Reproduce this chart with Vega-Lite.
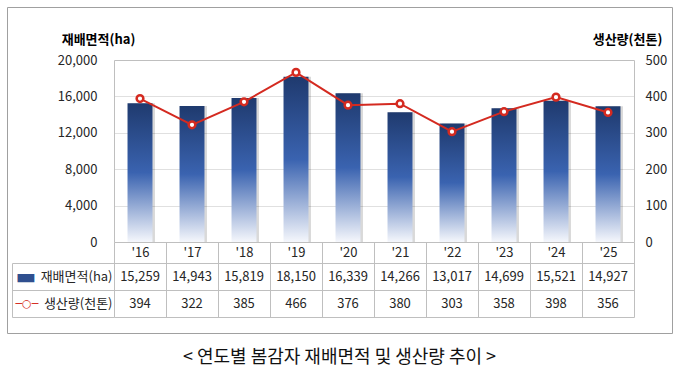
{
  "$schema": "https://vega.github.io/schema/vega-lite/v6.json",
  "width": 665,
  "height": 326,
  "autosize": "none",
  "padding": {"left": 7, "top": 7, "right": 8, "bottom": 42},
  "background": "white",
  "config": {
    "view": {"stroke": "#a0a0a0", "strokeWidth": 1},
    "font": "Noto Sans CJK KR",
    "axis": {"labelFont": "Noto Sans CJK KR", "titleFont": "Noto Sans CJK KR"},
    "text": {"font": "Noto Sans CJK KR"}
  },
  "title": {
    "text": "< 연도별 봄감자 재배면적 및 생산량 추이 >",
    "orient": "bottom",
    "anchor": "middle",
    "fontSize": 18,
    "fontWeight": "normal",
    "font": "Noto Sans CJK KR",
    "color": "#111111",
    "offset": 16
  },
  "data": {
    "values": [
      {"year": "'16", "area": 15259, "prod": 394},
      {"year": "'17", "area": 14943, "prod": 322},
      {"year": "'18", "area": 15819, "prod": 385},
      {"year": "'19", "area": 18150, "prod": 466},
      {"year": "'20", "area": 16339, "prod": 376},
      {"year": "'21", "area": 14266, "prod": 380},
      {"year": "'22", "area": 13017, "prod": 303},
      {"year": "'23", "area": 14699, "prod": 358},
      {"year": "'24", "area": 15521, "prod": 398},
      {"year": "'25", "area": 14927, "prod": 356}
    ]
  },
  "encoding": {
    "x": {
      "field": "year",
      "type": "nominal",
      "sort": null,
      "title": null,
      "scale": {"type": "band", "range": [107, 627], "paddingInner": 0, "paddingOuter": 0},
      "axis": {
        "orient": "bottom",
        "offset": -91,
        "domainColor": "#bfbfbf",
        "tickBand": "extent",
        "tickSize": 75,
        "tickColor": "#bfbfbf",
        "labelPadding": -64.5,
        "labelBaseline": "middle",
        "labelAngle": 0,
        "labelFontSize": 13,
        "labelColor": "#262626",
        "grid": false
      }
    }
  },
  "layer": [
    {
      "mark": {"type": "bar", "width": {"band": 0.48}, "fill": "#000000", "opacity": 0.15, "xOffset": 2.5},
      "encoding": {
        "y": {"field": "area", "type": "quantitative", "scale": {"domain": [0, 20000], "range": [235, 53], "nice": false}, "axis": null}
      }
    },
    {
      "mark": {
        "type": "bar",
        "width": {"band": 0.48},
        "fill": {
          "gradient": "linear",
          "x1": 0, "y1": 0, "x2": 0, "y2": 1,
          "stops": [
            {"offset": 0, "color": "#1f3a6e"},
            {"offset": 0.5, "color": "#3a63b0"},
            {"offset": 1, "color": "#f5f7fc"}
          ]
        }
      },
      "encoding": {
        "y": {
          "field": "area",
          "type": "quantitative",
          "scale": {"domain": [0, 20000], "range": [235, 53], "nice": false},
          "axis": {
            "orient": "left",
            "offset": -107,
            "values": [0, 4000, 8000, 12000, 16000, 20000],
            "labelExpr": "format(datum.value, ',')",
            "ticks": false,
            "tickSize": 0,
            "labelPadding": 17,
            "labelFontSize": 13,
            "labelColor": "#262626",
            "domainColor": "#bfbfbf",
            "grid": true,
            "gridColor": {"condition": {"test": "datum.value >= 20000", "value": "#bfbfbf"}, "value": "#e0e0e0"},
            "title": "재배면적(ha)",
            "titleAngle": 0,
            "titleX": -16,
            "titleY": 32,
            "titleAlign": "center",
            "titleBaseline": "middle",
            "titleFontSize": 13,
            "titleFontWeight": "bold",
            "titleColor": "#000000"
          }
        }
      }
    },
    {
      "mark": {"type": "line", "color": "#d42a20", "strokeWidth": 2},
      "encoding": {
        "y": {
          "field": "prod",
          "type": "quantitative",
          "scale": {"domain": [0, 500], "range": [235, 53], "nice": false},
          "axis": {
            "orient": "right",
            "offset": -38,
            "values": [0, 100, 200, 300, 400, 500],
            "ticks": false,
            "tickSize": 0,
            "labelPadding": 11,
            "labelFontSize": 13,
            "labelColor": "#262626",
            "domainColor": "#bfbfbf",
            "grid": false,
            "title": "생산량(천톤)",
            "titleAngle": 0,
            "titleX": -7,
            "titleY": 32,
            "titleAlign": "center",
            "titleBaseline": "middle",
            "titleFontSize": 13,
            "titleFontWeight": "bold",
            "titleColor": "#000000"
          }
        }
      }
    },
    {
      "mark": {"type": "point", "shape": "circle", "filled": true, "fill": "white", "stroke": "#d42a20", "strokeWidth": 2.5, "size": 45, "opacity": 1},
      "encoding": {
        "y": {"field": "prod", "type": "quantitative", "scale": {"domain": [0, 500], "range": [235, 53], "nice": false}, "axis": null}
      }
    },
    {
      "transform": [{"fold": ["area", "prod"], "as": ["key", "value"]}],
      "mark": {"type": "text", "fontSize": 13, "color": "#262626", "baseline": "middle"},
      "encoding": {
        "y": {
          "field": "key",
          "type": "nominal",
          "scale": {"type": "band", "domain": ["area", "prod"], "range": [256, 310], "paddingInner": 0, "paddingOuter": 0},
          "axis": {
            "orient": "left",
            "offset": -5,
            "title": null,
            "domainColor": "#bfbfbf",
            "tickBand": "extent",
            "tickSize": -102,
            "tickColor": "#bfbfbf",
            "grid": true,
            "gridColor": "#bfbfbf",
            "labelPadding": 2,
            "labelExpr": "datum.value == 'area' ? '재배면적(ha)' : (datum.value == 'prod' ? '생산량(천톤)' : '')",
            "labelFontSize": 13,
            "labelColor": "#262626",
            "labelAlign": "right",
            "labelBaseline": "middle"
          }
        },
        "text": {"field": "value", "type": "quantitative", "format": ","}
      }
    },
    {
      "transform": [{"fold": ["area", "prod"], "as": ["key", "value"]}],
      "mark": {"type": "text", "text": ""},
      "encoding": {
        "y": {
          "field": "key",
          "type": "nominal",
          "scale": {"type": "band", "domain": ["area", "prod"], "range": [256, 310], "paddingInner": 0, "paddingOuter": 0},
          "axis": {
            "orient": "left",
            "offset": -5,
            "title": null,
            "domain": false,
            "ticks": false,
            "tickSize": 0,
            "grid": false,
            "labelAlign": "left",
            "labelBaseline": "middle",
            "labelPadding": -3,
            "labelExpr": "datum.value == 'area' ? '▬' : (datum.value == 'prod' ? '─○─' : '')",
            "labelFont": "DejaVu Sans",
            "labelFontSize": {"condition": {"test": "datum.value == 'area'", "value": 22}, "value": 11},
            "labelFontWeight": "bold",
            "labelColor": {"condition": {"test": "datum.value == 'area'", "value": "#2f4f8f"}, "value": "#d42a20"}
          }
        }
      }
    }
  ],
  "resolve": {"scale": {"y": "independent"}, "axis": {"y": "independent"}}
}
